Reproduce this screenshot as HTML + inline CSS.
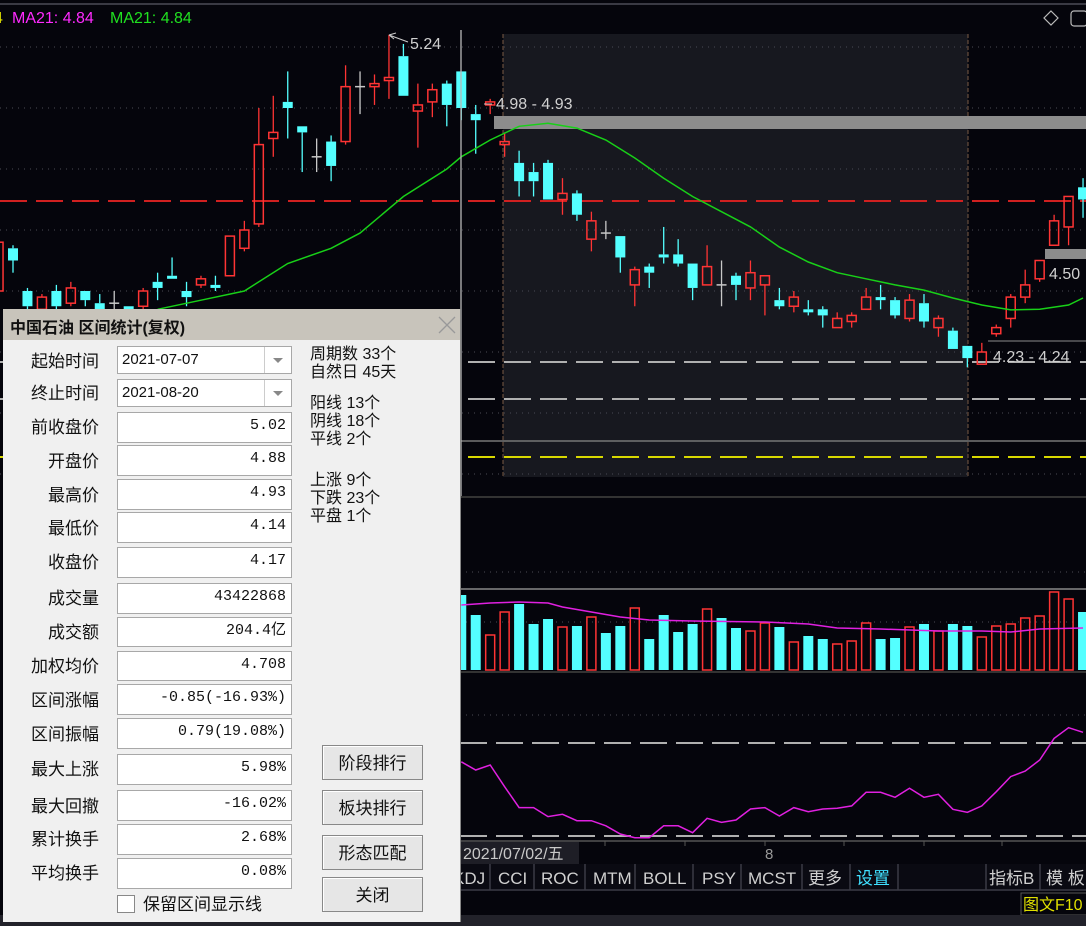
<!DOCTYPE html>
<html><head><meta charset="utf-8">
<style>
html,body{margin:0;padding:0;background:#05050c;}
#wrap{position:relative;width:1086px;height:926px;overflow:hidden;background:#05050c;font-family:"Liberation Sans","Noto Sans CJK SC",sans-serif;}
svg{position:absolute;left:0;top:0;}
#dlg{position:absolute;left:3px;top:309px;width:457px;height:613px;background:#f0f0f0;border-right:1px solid #888;}
#dlg .title{position:absolute;left:0;top:0;width:457px;height:31px;background:#c8c4bb;}
#dlg .title span{position:absolute;left:7px;top:5px;font:bold 16px "Liberation Sans","Noto Sans CJK SC",sans-serif;color:#111;}
.lbl{position:absolute;width:96px;text-align:right;font:17px "Noto Sans CJK SC",sans-serif;color:#111;line-height:20px;}
.inp{position:absolute;left:114px;width:175px;height:28px;background:#fff;border:1px solid #a8a8a8;box-sizing:border-box;font:15px "Liberation Mono","Noto Sans CJK SC",monospace;color:#111;text-align:right;padding-right:5px;line-height:26px;}
.inp.date{text-align:left;padding-left:4px;font-family:"Liberation Sans",sans-serif;}
.dd{position:absolute;right:0;top:0;width:26px;height:26px;border-left:1px solid #ccc;}
.dd:after{content:"";position:absolute;left:8px;top:11px;border-left:5px solid transparent;border-right:5px solid transparent;border-top:5px solid #888;}
.st{position:absolute;left:307px;font:16px "Liberation Sans","Noto Sans CJK SC",sans-serif;color:#111;line-height:18px;}
.btn{position:absolute;left:319px;width:101px;height:35px;background:#e6e6e6;border:1px solid #888;box-sizing:border-box;box-shadow:inset 1px 1px 0 #fff;font:17px "Noto Sans CJK SC",sans-serif;text-align:center;line-height:32px;color:#111;}
</style></head><body>
<div id="wrap">
<svg id="chart" width="1086" height="926"></svg>

<div id="dlg">
 <div class="title"><span>中国石油 区间统计(复权)</span>
  <svg width="20" height="20" style="left:434px;top:6px"><path d="M2 2L18 18M18 2L2 18" stroke="#999" stroke-width="1.3"/></svg></div>

 <div class="lbl" style="top:41px">起始时间</div>
 <div class="inp date" style="top:37px">2021-07-07<div class="dd"></div></div>
 <div class="lbl" style="top:73px">终止时间</div>
 <div class="inp date" style="top:70px">2021-08-20<div class="dd"></div></div>
 <div class="lbl" style="top:107px">前收盘价</div>
 <div class="inp" style="top:103px;height:31px">5.02</div>
 <div class="lbl" style="top:141px">开盘价</div>
 <div class="inp" style="top:136px;height:31px">4.88</div>
 <div class="lbl" style="top:175px">最高价</div>
 <div class="inp" style="top:170px;height:31px">4.93</div>
 <div class="lbl" style="top:208px">最低价</div>
 <div class="inp" style="top:203px;height:31px">4.14</div>
 <div class="lbl" style="top:242px">收盘价</div>
 <div class="inp" style="top:238px;height:31px">4.17</div>
 <div class="lbl" style="top:278px">成交量</div>
 <div class="inp" style="top:274px;height:31px">43422868</div>
 <div class="lbl" style="top:312px">成交额</div>
 <div class="inp" style="top:308px;height:30px">204.4亿</div>
 <div class="lbl" style="top:346px">加权均价</div>
 <div class="inp" style="top:342px;height:30px">4.708</div>
 <div class="lbl" style="top:380px">区间涨幅</div>
 <div class="inp" style="top:375px;height:31px">-0.85(-16.93%)</div>
 <div class="lbl" style="top:414px">区间振幅</div>
 <div class="inp" style="top:409px;height:31px">0.79(19.08%)</div>
 <div class="lbl" style="top:449px">最大上涨</div>
 <div class="inp" style="top:445px;height:31px">5.98%</div>
 <div class="lbl" style="top:486px">最大回撤</div>
 <div class="inp" style="top:481px;height:31px">-16.02%</div>
 <div class="lbl" style="top:519px">累计换手</div>
 <div class="inp" style="top:515px;height:31px">2.68%</div>
 <div class="lbl" style="top:553px">平均换手</div>
 <div class="inp" style="top:549px;height:31px">0.08%</div>
 <div style="position:absolute;left:114px;top:586px;width:16px;height:16px;background:#fff;border:1px solid #888"></div>
 <div style="position:absolute;left:140px;top:584px;font:17px 'Noto Sans CJK SC',sans-serif;color:#111;line-height:20px">保留区间显示线</div>

 <div class="st" style="top:37px">周期数 33个<br>自然日 45天</div>
 <div class="st" style="top:86px">阳线 13个<br>阴线 18个<br>平线 2个</div>
 <div class="st" style="top:163px">上涨 9个<br>下跌 23个<br>平盘 1个</div>

 <div class="btn" style="top:436px">阶段排行</div>
 <div class="btn" style="top:481px">板块排行</div>
 <div class="btn" style="top:526px">形态匹配</div>
 <div class="btn" style="top:568px">关闭</div>
</div>
</div>

<script>
const opens  = [4.40,4.54,4.40,4.34,4.40,4.36,4.40,4.36,4.36,4.35,4.35,4.43,4.45,4.40,4.42,4.42,4.45,4.54,4.62,4.90,5.02,4.94,4.84,4.89,4.89,5.07,5.07,5.09,5.17,4.99,5.02,5.08,5.12,4.98,5.01,4.88,4.82,4.79,4.82,4.70,4.72,4.57,4.59,4.58,4.42,4.48,4.52,4.52,4.49,4.42,4.42,4.45,4.41,4.42,4.37,4.35,4.34,4.34,4.28,4.30,4.34,4.38,4.37,4.31,4.36,4.28,4.27,4.22,4.16,4.26,4.31,4.38,4.44,4.55,4.61,4.74];
const highs  = [4.57,4.55,4.41,4.39,4.42,4.43,4.40,4.39,4.40,4.35,4.41,4.46,4.51,4.43,4.45,4.45,4.58,4.63,5.00,5.04,5.12,4.94,4.90,4.91,5.14,5.12,5.11,5.24,5.21,5.08,5.08,5.09,5.12,5.01,5.03,4.92,4.86,4.82,4.83,4.77,4.73,4.66,4.63,4.58,4.48,4.49,4.61,4.57,4.49,4.55,4.50,4.46,4.50,4.45,4.41,4.40,4.37,4.35,4.33,4.33,4.41,4.42,4.38,4.39,4.39,4.32,4.28,4.22,4.23,4.29,4.39,4.47,4.50,4.65,4.71,4.77];
const lows   = [4.39,4.46,4.33,4.32,4.33,4.35,4.35,4.32,4.33,4.32,4.33,4.37,4.44,4.35,4.41,4.40,4.45,4.53,4.61,4.84,4.90,4.79,4.79,4.76,4.88,4.98,5.01,5.03,5.04,4.87,4.97,4.94,4.96,4.85,4.98,4.84,4.71,4.71,4.70,4.65,4.63,4.53,4.57,4.46,4.35,4.41,4.49,4.48,4.37,4.42,4.35,4.37,4.37,4.32,4.34,4.33,4.32,4.28,4.28,4.28,4.34,4.34,4.31,4.30,4.28,4.25,4.21,4.15,4.16,4.25,4.28,4.36,4.43,4.55,4.55,4.64];
const closes = [4.56,4.50,4.35,4.38,4.35,4.41,4.37,4.33,4.36,4.33,4.40,4.41,4.44,4.38,4.44,4.41,4.58,4.60,4.88,4.92,5.00,4.92,4.84,4.81,5.07,5.07,5.08,5.10,5.04,5.01,5.06,5.01,5.00,4.96,5.02,4.89,4.76,4.76,4.70,4.72,4.65,4.63,4.59,4.51,4.47,4.46,4.51,4.49,4.41,4.48,4.42,4.42,4.46,4.45,4.35,4.38,4.33,4.32,4.31,4.32,4.38,4.37,4.32,4.37,4.30,4.31,4.21,4.18,4.20,4.28,4.38,4.42,4.50,4.63,4.71,4.70];
const maIdx  = [11,14,17,20,23,25,28,31,32,34,36,38,40,42,44,46,48,50,52,54,56,58,60,62,64,66,68,70,72,74,75];
const maVals = [4.34,4.37,4.40,4.49,4.54,4.59,4.71,4.80,4.84,4.895,4.94,4.95,4.934,4.895,4.836,4.77,4.71,4.66,4.61,4.544,4.495,4.46,4.44,4.42,4.403,4.377,4.354,4.338,4.34,4.354,4.377];
const volStart = 32;
const volumes = [75,55,35,58,66,46,51,43,44,53,37,44,62,31,55,38,46,61,52,42,39,47,43,28,34,31,26,29,47,31,32,43,46,39,46,44,33,44,46,52,54,78,71,58];
const volMaIdx = [32,34,36,38,39,41,43,45,48,53,56,58,61,65,68,70,72,75];
const volMaVals = [65,67,68,67,63,58,53,50,49,48,46,42,41,39,39,38,41,42];
const indVals = [67.9,62.6,65.8,51.8,38.3,38.3,32.5,34.0,29.9,29.9,26.6,21.3,18.9,18.9,26.6,26.6,22.1,31.4,28.8,30.3,37.4,38.3,32.9,38.3,35.7,37.4,37.9,39.4,48.2,48.2,45.0,50.8,45.0,46.9,37.2,35.3,39.4,48.6,58.3,61.9,69.0,83.0,89.9,86.9];
const priceLevels = [5.20,5.00,4.80,4.60,4.40,4.20,4.00,3.80];

const NS='http://www.w3.org/2000/svg';
const svg=document.getElementById('chart');
function xOf(i){return -1.46+14.46*i;}
function yP(p){return 47+(5.20-p)*305;}
function yV(v){return 670-v;}
function yI(v){return 836-(v-20)*93/60;}
function mk(tag,attrs,parent){const e=document.createElementNS(NS,tag);for(const k in attrs)e.setAttribute(k,attrs[k]);(parent||svg).appendChild(e);return e;}

// top bar
let e;
e=mk('line',{x1:0,y1:4,x2:1086,y2:4,stroke:'#3a3a44','stroke-width':2});


// selection shading
e=mk('rect',{x:503,y:34,width:465,height:443,fill:'#17181f'});


// dotted grid
priceLevels.forEach(p=>{
  const g=mk('line',{x1:0,y1:yP(p),x2:1086,y2:yP(p),stroke:'#4a4a55','stroke-width':1,'stroke-dasharray':'1 5'});
  
  
});
// selection borders
[503,968].forEach(x=>{
  const l=mk('line',{x1:x,y1:34,x2:x,y2:477,stroke:'#7a5a45','stroke-width':1,'stroke-dasharray':'4 2'});
  
  
});
// reference lines
e=mk('line',{x1:0,y1:yP(4.695),x2:1086,y2:yP(4.695),stroke:'#d02020','stroke-width':2,'stroke-dasharray':'27 9'});


e=mk('line',{x1:0,y1:362,x2:1086,y2:362,stroke:'#b0b0b0','stroke-width':2,'stroke-dasharray':'27 9'});


e=mk('line',{x1:0,y1:399,x2:1086,y2:399,stroke:'#b0b0b0','stroke-width':2,'stroke-dasharray':'27 9'});


e=mk('line',{x1:460,y1:441,x2:1086,y2:441,stroke:'#777','stroke-width':1.5});


e=mk('line',{x1:0,y1:457,x2:1086,y2:457,stroke:'#d8d800','stroke-width':2,'stroke-dasharray':'27 9'});


// gray band 4.98-4.93
e=mk('rect',{x:494,y:116,width:592,height:13,fill:'#8c8c8c'});


e=mk('rect',{x:1045,y:249,width:41,height:10,fill:'#8c8c8c'});


e=mk('line',{x1:988,y1:341,x2:1086,y2:341,stroke:'#8c8c8c','stroke-width':1});



// candles
for(let i=0;i<opens.length;i++){
  const x=xOf(i),o=opens[i],c=closes[i],h=highs[i],l=lows[i];
  const g=mk('g',{});
  
  
  const doji=Math.abs(c-o)<0.006;
  const col=doji?'#c8c8c8':(c>o?'#ff3434':'#54ffff');
  const top=yP(Math.max(o,c)),bot=yP(Math.min(o,c));
  mk('line',{x1:x,y1:yP(h),x2:x,y2:top,stroke:col,'stroke-width':1.3},g);
  mk('line',{x1:x,y1:bot,x2:x,y2:yP(l),stroke:col,'stroke-width':1.3},g);
  if(doji){mk('line',{x1:x-5,y1:top,x2:x+5,y2:top,stroke:col,'stroke-width':1.5},g);}
  else if(c>o){mk('rect',{x:x-4.5,y:top,width:9,height:Math.max(bot-top,1.5),fill:'none',stroke:col,'stroke-width':1.5},g);}
  else{mk('rect',{x:x-5,y:top,width:10,height:Math.max(bot-top,2),fill:col},g);}
}
// MA21 line
let d='';
maIdx.forEach((ix,k)=>{d+=(k?'L':'M')+xOf(ix).toFixed(1)+' '+yP(maVals[k]).toFixed(1);});
e=mk('path',{d:d,fill:'none',stroke:'#18d018','stroke-width':1.5});


// cursor line
e=mk('line',{x1:461,y1:30,x2:461,y2:497,stroke:'#b8b8b8','stroke-width':1.3});



// labels
function txt(s,x,y,fill,size,name,anchor){const t=mk('text',{x:x,y:y,fill:fill,'font-size':size,'font-family':'"Liberation Sans","Noto Sans CJK SC",sans-serif'});if(anchor)t.setAttribute('text-anchor',anchor);t.textContent=s;return t;}
txt('4',-6,23,'#e0e000',16,'ma-prev-value');
txt('MA21: 4.84',12,23,'#ff2aff',16,'ma21-legend-magenta');
txt('MA21: 4.84',110,23,'#20e020',16,'ma21-legend-green');
e=mk('path',{d:'M389 35 L396 33 M389 35 L394 39 M389 35 L408 42',stroke:'#ccc',fill:'none','stroke-width':1});


txt('5.24',410,49,'#d0d0d0',16,'high-price-label');
e=mk('line',{x1:484,y1:104,x2:492,y2:104,stroke:'#ccc'});


txt('4.98 - 4.93',496,109,'#d0d0d0',16,'band-price-label');
txt('4.23 - 4.24',993,362,'#d0d0d0',16,'low-price-label');
txt('4.50',1049,279,'#d0d0d0',16,'price-4-50-label');
// top-right icons
e=mk('path',{d:'M1051 11 L1058 18 L1051 25 L1044 18 Z',fill:'none',stroke:'#bbb','stroke-width':1.2});


e=mk('rect',{x:1071,y:11,width:16,height:15,rx:3,fill:'none',stroke:'#bbb','stroke-width':1.2});



// panel borders
e=mk('line',{x1:460,y1:497,x2:1086,y2:497,stroke:'#333','stroke-width':2});


e=mk('line',{x1:460,y1:572,x2:1086,y2:572,stroke:'#4a4a55','stroke-dasharray':'1 5'});


e=mk('line',{x1:460,y1:589,x2:1086,y2:589,stroke:'#888','stroke-width':1.5});


e=mk('line',{x1:460,y1:622,x2:1086,y2:622,stroke:'#4a4a55','stroke-dasharray':'1 5'});


e=mk('line',{x1:460,y1:672,x2:1086,y2:672,stroke:'#333','stroke-width':2});


// volume bars
volumes.forEach((v,k)=>{
  const i=volStart+k,x=xOf(i),o=opens[i],c=closes[i];
  let up=c>o; if(Math.abs(c-o)<0.006) up=c>=closes[i-1];
  const col=up?'#ff3434':'#54ffff';
  let r;
  if(up) r=mk('rect',{x:x-4.5,y:yV(v),width:9,height:v,fill:'none',stroke:col,'stroke-width':1.5});
  else r=mk('rect',{x:x-5,y:yV(v),width:10,height:v,fill:col});
  
  
});
d='';
volMaIdx.forEach((ix,k)=>{d+=(k?'L':'M')+xOf(ix).toFixed(1)+' '+yV(volMaVals[k]).toFixed(1);});
e=mk('path',{d:d,fill:'none',stroke:'#e020e0','stroke-width':1.5});



// indicator panel
e=mk('line',{x1:460,y1:715,x2:1086,y2:715,stroke:'#4a4a55','stroke-dasharray':'1 5'});


[80,20].forEach(v=>{const l=mk('line',{x1:460,y1:yI(v),x2:1086,y2:yI(v),stroke:'#b0b0b0','stroke-width':2,'stroke-dasharray':'27 9'});

});
d='';
indVals.forEach((v,k)=>{d+=(k?'L':'M')+xOf(volStart+k).toFixed(1)+' '+yI(v).toFixed(1);});
e=mk('path',{d:d,fill:'none',stroke:'#e020e0','stroke-width':1.5});



// time axis
e=mk('line',{x1:460,y1:841,x2:1086,y2:841,stroke:'#555','stroke-width':1.5});


[605,685,765,844,924,1002].forEach(x=>{const t=mk('line',{x1:x,y1:841,x2:x,y2:846,stroke:'#555'});

});
e=mk('rect',{x:461,y:842,width:118,height:22,fill:'#1e1e26'});


txt('2021/07/02/五',463,859,'#c8c8c8',16,'cursor-date-label');
txt('8',765,859,'#999',15,'month-label');
// tabs
e=mk('rect',{x:460,y:864,width:626,height:27,fill:'#0a0a12'});


[460,490,534,585,635,693,741,802,850,898,986,1040].forEach(x=>{const s=mk('line',{x1:x,y1:864,x2:x,y2:890,stroke:'#3a3a44','stroke-width':1.5});

});
e=mk('line',{x1:460,y1:890,x2:1086,y2:890,stroke:'#3a3a44','stroke-width':1.5});


const tabs=[['KDJ',453],['CCI',498],['ROC',541],['MTM',593],['BOLL',643],['PSY',702],['MCST',748],['更多',808],['设置',856],['指标B',989],['模 板',1046]];
tabs.forEach(t=>{const el=txt(t[0],t[1],884,t[0]==='设置'?'#40e0ff':'#d0d0d0',17,'tab-'+t[0]);});
e=mk('rect',{x:1021,y:893,width:66,height:22,fill:'none',stroke:'#555'});


txt('图文F10',1023,910,'#e0e000',16,'f10-button');
e=mk('rect',{x:0,y:915,width:1086,height:11,fill:'#22222a'});


</script>
</body></html>
